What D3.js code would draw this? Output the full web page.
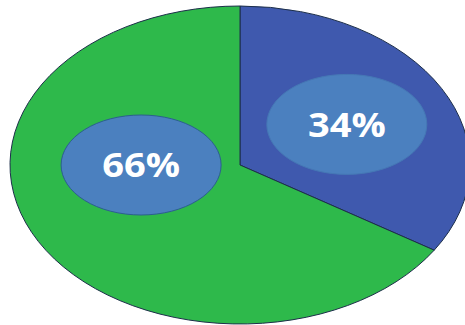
<!DOCTYPE html>
<html lang="en">
<head>
<meta charset="UTF-8">
<title>Pie</title>
<script src="https://d3js.org/d3.v7.min.js"></script>
<style>
  html, body { margin: 0; padding: 0; background: #fff; }
</style>
</head>
<body>
<div id="pie"></div>
<script>
// data
const categories = ["A", "B"];
const values = [34, 66];
const labels = ["34%", "66%"];
const colors = ["#3f59ae", "#2eb94b"];

const width = 465, height = 325;
const cx = 240, cy = 165, rx = 230, ry = 159;
const r = 100; // unit radius, stretched into an ellipse afterwards

const svg = d3.select("#pie").append("svg")
    .attr("width", width)
    .attr("height", height);

const g = svg.append("g")
    .attr("transform", "translate(" + cx + "," + cy + ") scale(" + rx / r + "," + ry / r + ")");

const pie = d3.pie().sort(null).value(d => d.value);
const data_ready = pie(categories.map((c, i) => ({ key: c, value: values[i], label: labels[i], color: colors[i] })));

const arc = d3.arc().innerRadius(0).outerRadius(r);

g.selectAll("path")
  .data(data_ready)
  .enter()
  .append("path")
    .attr("d", arc)
    .attr("fill", d => d.data.color)
    .attr("stroke", "#1d2f4a")
    .attr("stroke-width", 1)
    .attr("vector-effect", "non-scaling-stroke");

// label bubbles: first one sits on the slice mid angle, the big one is pushed to the left side
const labelPlace = [
  d => ({ a: (d.startAngle + d.endAngle) / 2, f: 0.53 }),
  d => ({ a: Math.PI * 1.5, f: 0.43 })
];

const lab = svg.selectAll(".lab")
  .data(data_ready)
  .enter()
  .append("g")
    .attr("class", "lab")
    .attr("transform", (d, i) => {
      const p = labelPlace[i](d);
      const x = cx + rx * p.f * Math.sin(p.a);
      const y = cy - ry * p.f * Math.cos(p.a);
      return "translate(" + x + "," + y + ")";
    });

lab.append("ellipse")
    .attr("rx", 80)
    .attr("ry", 50)
    .attr("fill", "#4b80bf")
    .attr("stroke", (d, i) => i === 0 ? "#4577b5" : "#2c5f8f")
    .attr("stroke-width", 1);

lab.append("text")
    .text(d => d.data.label)
    .attr("text-anchor", "middle")
    .attr("dy", "0.36em")
    .attr("fill", "#fff")
    .attr("transform", "scale(1.12,1)")
    .style("font-family", "'Open Sans', sans-serif")
    .style("font-weight", 700)
    .style("font-size", "34px");
</script>
</body>
</html>
